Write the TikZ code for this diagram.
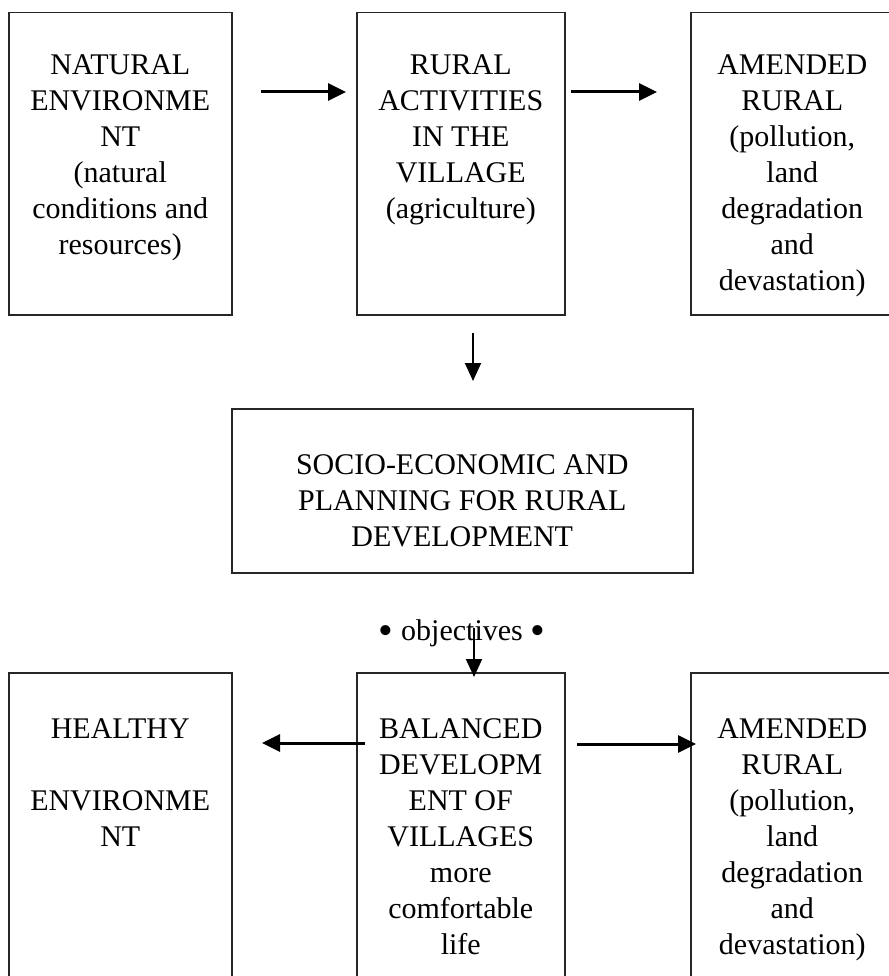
\documentclass[tikz,border=0pt]{standalone}
\usepackage{fontspec}
\setmainfont{Liberation Serif}
\usetikzlibrary{arrows.meta,positioning}

% box text: width, height, top gap, lines
\newcommand{\cell}[4]{\parbox[t][#2][t]{#1}{\centering\vspace*{#3}#4}}
\newcommand{\bigdot}{\raisebox{-4pt}{\scalebox{1.4}{\textbullet}}}

\tikzset{
  stage/.style={draw=black!85, line width=1.5pt, inner sep=0pt, anchor=north west},
  flow/.style={-{Triangle[length=18pt,width=17pt]}, line width=3pt},
  drop/.style={-{Triangle[length=18pt,width=16pt]}, line width=2pt},
}

\begin{document}
\begin{tikzpicture}[x=1pt,y=-1pt,font=\fontsize{30}{36}\selectfont]
  \useasboundingbox (0,0) rectangle (888,976);

  % top row
  \node[stage] (natural) at (8,12) {\cell{223pt}{302pt}{36.8pt}{\strut NATURAL\\ ENVIRONME\\ NT\\ (natural\\ conditions and\\ resources)}};
  \node[stage] (rural) at (356,12) {\cell{208pt}{302pt}{36.8pt}{\strut RURAL\\ ACTIVITIES\\ IN THE\\ VILLAGE\\ (agriculture)}};
  \node[stage] (amended) at (690,12) {\cell{203pt}{302pt}{36.8pt}{\strut AMENDED\\ RURAL\\ (pollution,\\ land\\ degradation\\ and\\ devastation)}};

  % planning
  \node[stage] (socio) at (231,408) {\cell{461pt}{164pt}{40.8pt}{\strut SOCIO-ECONOMIC AND\\ PLANNING FOR RURAL\\ DEVELOPMENT}};
  \node[anchor=base, inner sep=0pt] (objectives) at (462,640) {\bigdot\ objectives \bigdot};

  % bottom row
  \node[stage] (healthy) at (8,672) {\cell{223pt}{330pt}{40.8pt}{\strut HEALTHY\\[36pt] ENVIRONME\\ NT}};
  \node[stage] (balanced) at (356,672) {\cell{208pt}{330pt}{40.8pt}{\strut BALANCED\\ DEVELOPM\\ ENT OF\\ VILLAGES\\ more\\ comfortable\\ life}};
  \node[stage] (amended2) at (690,672) {\cell{203pt}{330pt}{40.8pt}{\strut AMENDED\\ RURAL\\ (pollution,\\ land\\ degradation\\ and\\ devastation)}};

  % arrow ends
  \coordinate (a1s) at (261,92);
  \coordinate (a1e) at (346,92);
  \coordinate (a2s) at (571,92);
  \coordinate (a2e) at (657,92);
  \coordinate (d1s) at (473,333);
  \coordinate (d1e) at (473,381);
  \coordinate (d2s) at (474,628);
  \coordinate (d2e) at (474,677);
  \coordinate (l1s) at (365,743);
  \coordinate (l1e) at (262,743);
  \coordinate (r1s) at (577,744);
  \coordinate (r1e) at (696,744);

  \draw[flow] (a1s) -- (a1e);
  \draw[flow] (a2s) -- (a2e);
  \draw[drop] (d1s) -- (d1e);
  \draw[drop] (d2s) -- (d2e);
  \draw[flow] (l1s) -- (l1e);
  \draw[flow] (r1s) -- (r1e);
\end{tikzpicture}
\end{document}
